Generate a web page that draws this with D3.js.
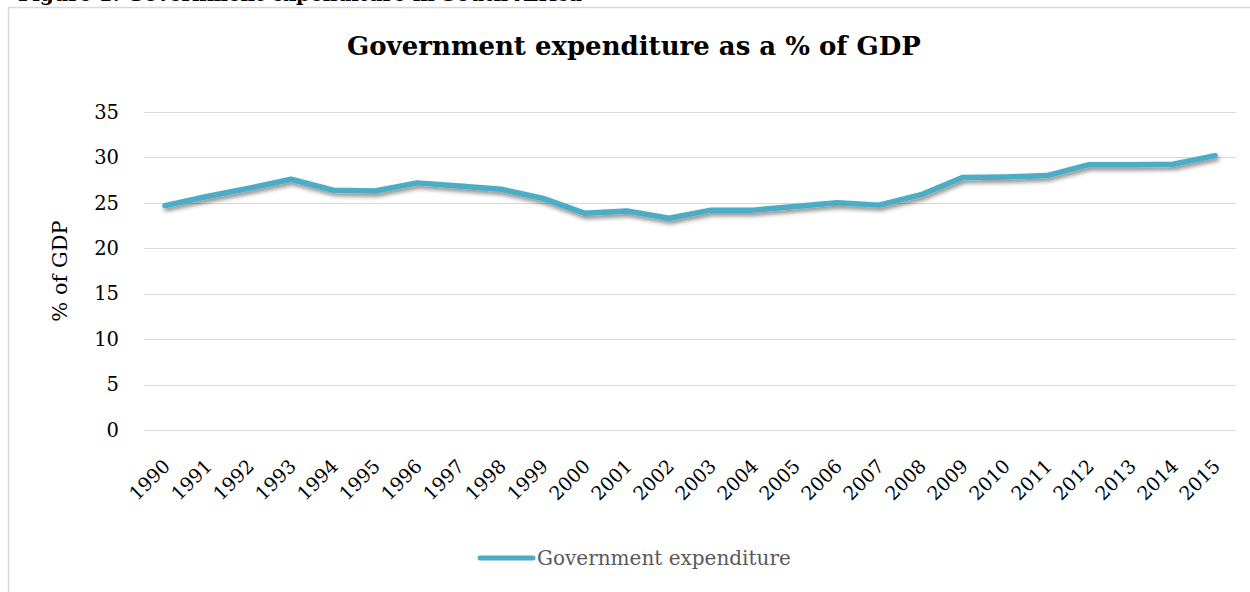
<!DOCTYPE html>
<html>
<head>
<meta charset="utf-8">
<script src="https://cdn.jsdelivr.net/npm/d3@7"></script>
<style>
  html, body { margin: 0; padding: 0; background: #fff; }
  svg { display: block; }
  text { font-family: "DejaVu Serif", "Liberation Serif", serif; }
</style>
</head>
<body>
<svg id="chart" width="1250" height="592"></svg>
<script>
// Government expenditure as a share of GDP, 1990-2015
const years = ["1990","1991","1992","1993","1994","1995","1996","1997","1998","1999",
               "2000","2001","2002","2003","2004","2005","2006","2007","2008","2009",
               "2010","2011","2012","2013","2014","2015"];
const expenditure = [24.7, 25.7, 26.6, 27.6, 26.4, 26.3, 27.2, 26.85, 26.5, 25.5,
                     23.85, 24.1, 23.3, 24.2, 24.2, 24.6, 25.0, 24.75, 25.9, 27.8,
                     27.85, 28.0, 29.2, 29.2, 29.25, 30.2];
const yTicks = [0, 5, 10, 15, 20, 25, 30, 35];
const seriesName = "Government expenditure";
const chartTitle = "Government expenditure as a % of GDP";
const yAxisTitle = "% of GDP";
const caption = "Figure 1: Government expenditure in South Africa";

const svg = d3.select("#chart");

// drop shadow for the series line
const defs = svg.append("defs");
const shadow = defs.append("filter").attr("id", "lineShadow")
  .attr("x", "-5%").attr("y", "-50%").attr("width", "110%").attr("height", "200%");
shadow.append("feDropShadow")
  .attr("dx", 1.5).attr("dy", 3).attr("stdDeviation", 2)
  .attr("flood-color", "#000").attr("flood-opacity", 0.45);

// document caption above the chart frame (runs off the top of the page)
svg.append("text")
  .attr("x", 18).attr("y", 0.5)
  .attr("font-size", 20).attr("font-weight", "bold").attr("fill", "#000")
  .text(caption);

// chart frame
svg.append("rect")
  .attr("x", 8.5).attr("y", 7.5).attr("width", 1260).attr("height", 620)
  .attr("fill", "#fff").attr("stroke", "#d9d9d9").attr("stroke-width", 1.5);

const plot = { left: 144, right: 1236, top: 112, bottom: 430 };

const x = d3.scaleBand().domain(years).range([plot.left, plot.right]);
const y = d3.scaleLinear().domain([0, 35]).range([plot.bottom, plot.top]);

// horizontal gridlines
svg.append("g")
  .selectAll("line")
  .data(yTicks)
  .join("line")
  .attr("x1", plot.left).attr("x2", plot.right)
  .attr("y1", d => Math.round(y(d)) + 0.5).attr("y2", d => Math.round(y(d)) + 0.5)
  .attr("stroke", "#d9d9d9").attr("stroke-width", 1.2);

// y axis labels
const yAxis = svg.append("g")
  .attr("transform", `translate(${plot.left - 25},0)`)
  .call(d3.axisLeft(y).tickValues(yTicks).tickSize(0).tickPadding(0));
yAxis.select(".domain").remove();
yAxis.selectAll("text")
  .attr("font-family", "DejaVu Serif, serif")
  .attr("font-size", 19.5).attr("fill", "#000");

// x axis labels, rotated
const xAxis = svg.append("g")
  .attr("transform", `translate(0,${plot.bottom})`)
  .call(d3.axisBottom(x).tickSize(0).tickPadding(0));
xAxis.select(".domain").remove();
xAxis.selectAll("text")
  .attr("font-family", "DejaVu Serif, serif")
  .attr("font-size", 19).attr("fill", "#000")
  .attr("text-anchor", "end")
  .attr("dy", "0.7em")
  .attr("transform", "translate(-3,28) rotate(-45)");

// y axis title
svg.append("text")
  .attr("transform", "translate(67,271) rotate(-90)")
  .attr("text-anchor", "middle")
  .attr("font-size", 21).attr("fill", "#000")
  .text(yAxisTitle);

// chart title
svg.append("text")
  .attr("x", 634).attr("y", 55)
  .attr("text-anchor", "middle")
  .attr("font-size", 26).attr("font-weight", "bold").attr("fill", "#000")
  .text(chartTitle);

// series line
const line = d3.line()
  .x((d, i) => x(years[i]) + x.bandwidth() / 2)
  .y(d => y(d));

svg.append("path")
  .datum(expenditure)
  .attr("d", line)
  .attr("fill", "none")
  .attr("stroke", "#4bacc6")
  .attr("stroke-width", 5.5)
  .attr("stroke-linejoin", "round")
  .attr("stroke-linecap", "round")
  .attr("filter", "url(#lineShadow)");

// legend
const legend = svg.append("g").attr("transform", "translate(480,558)");
legend.append("line")
  .attr("x1", 0).attr("x2", 53).attr("y1", 0).attr("y2", 0)
  .attr("stroke", "#4bacc6").attr("stroke-width", 5)
  .attr("stroke-linecap", "round");
legend.append("text")
  .attr("x", 57).attr("y", 0).attr("dy", "0.35em")
  .attr("font-size", 20).attr("fill", "#595959")
  .text(seriesName);
</script>
</body>
</html>
